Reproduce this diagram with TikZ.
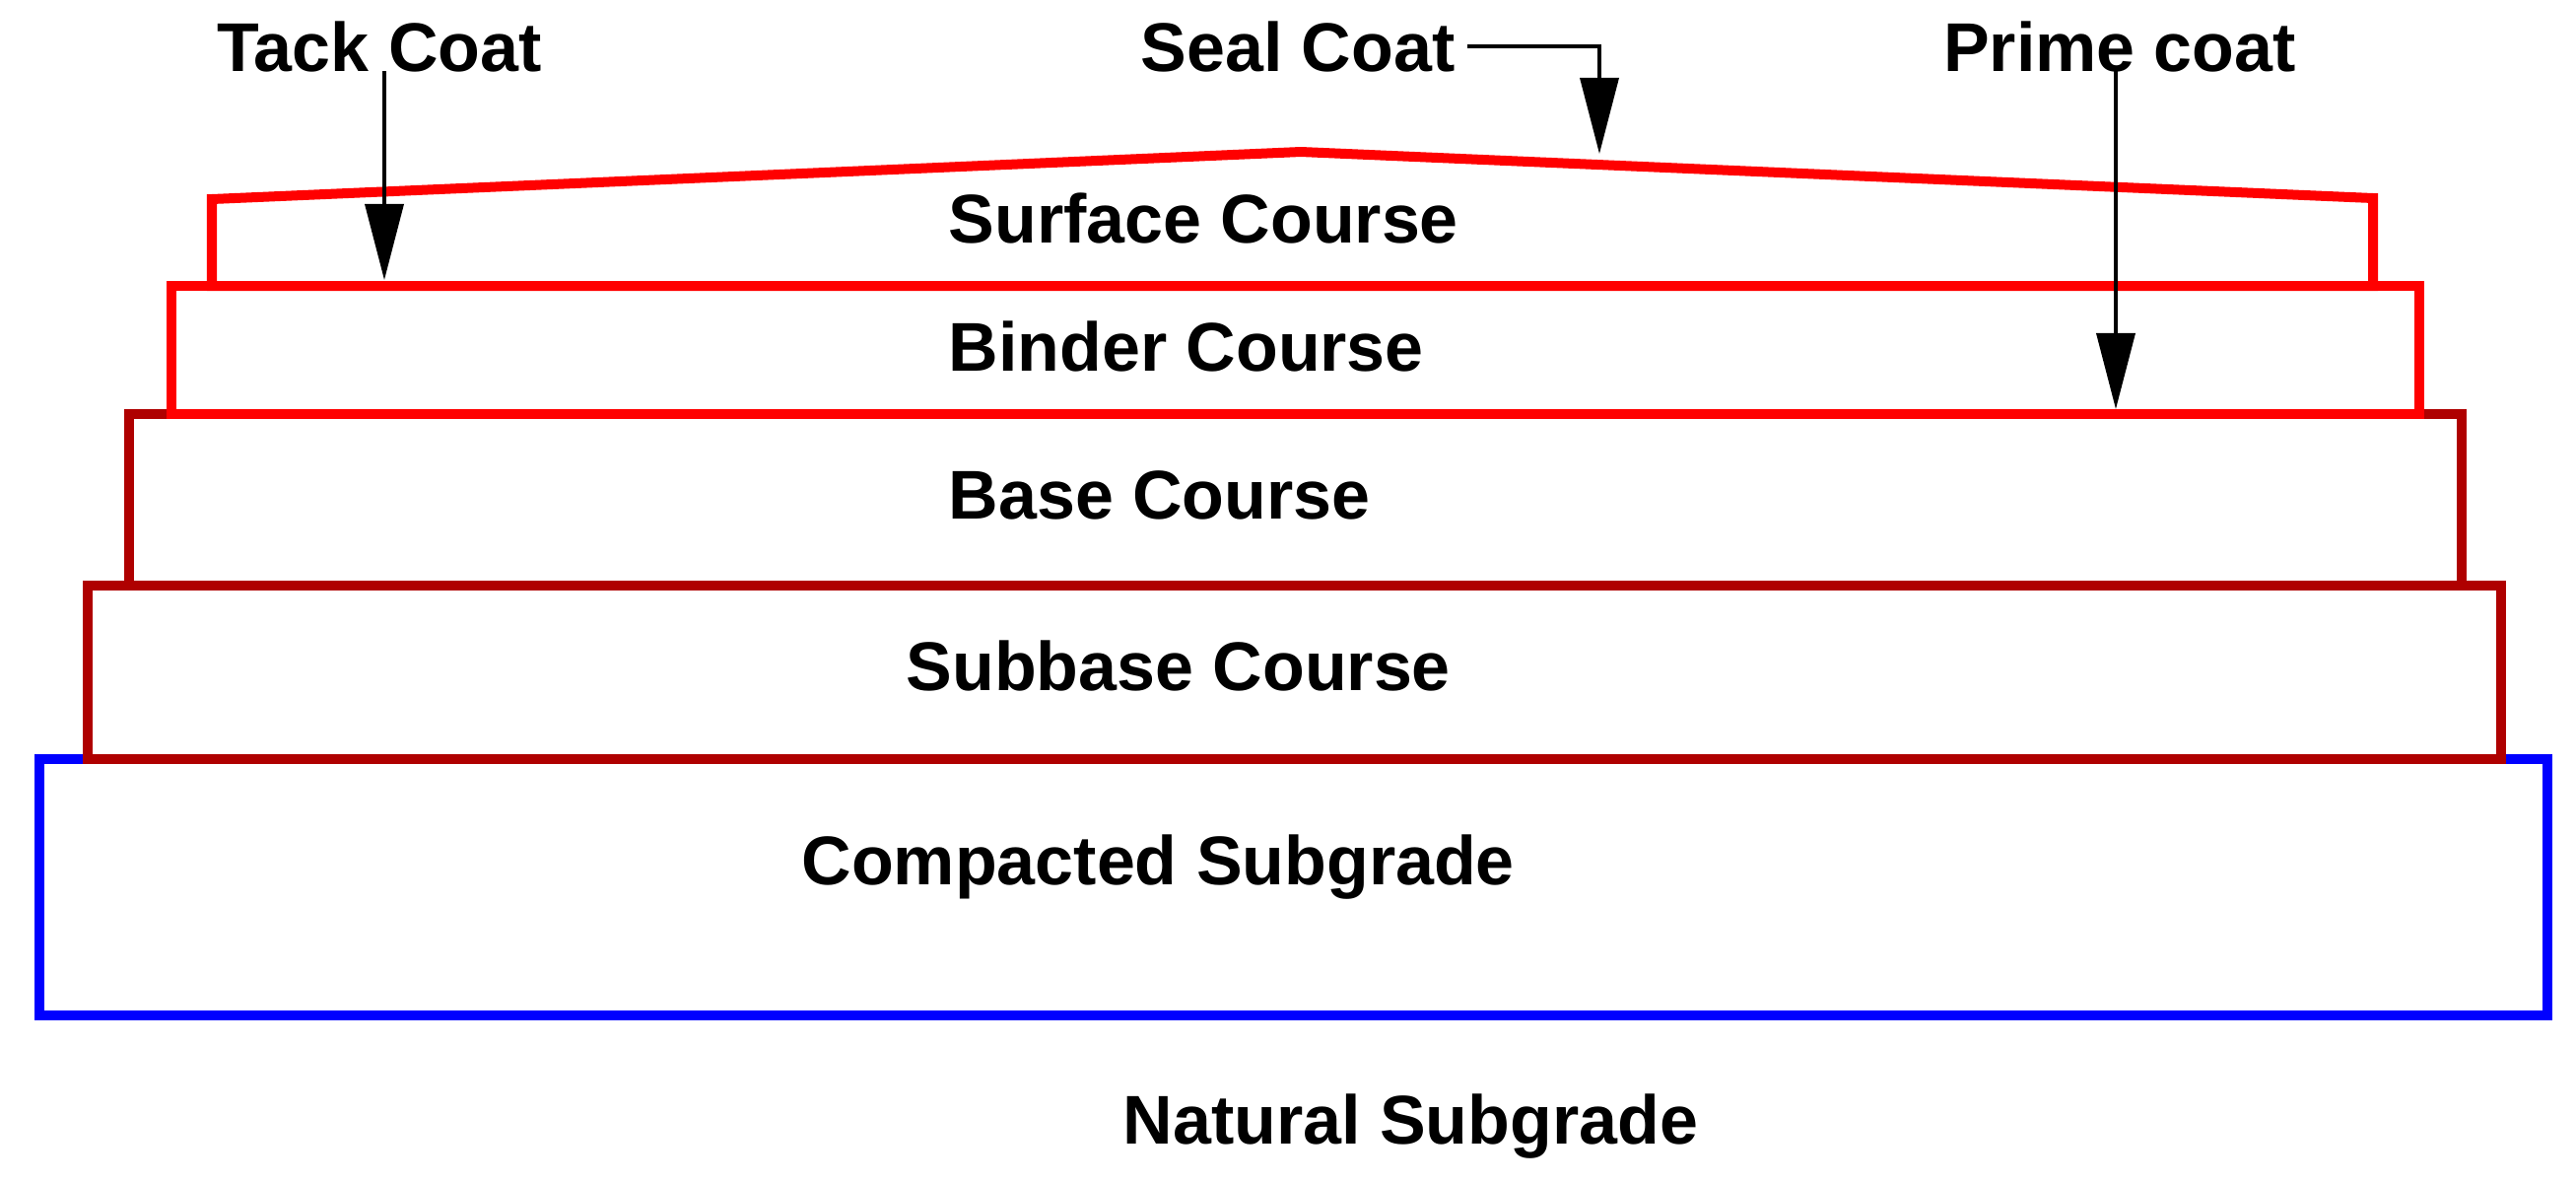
\documentclass[tikz,border=0pt]{standalone}
\usepackage{fontspec}
\setmainfont{Liberation Sans}
\usepackage{tikz}
\usetikzlibrary{arrows.meta}
\definecolor{layerred}{RGB}{255,0,0}
\definecolor{layerdark}{RGB}{175,0,0}
\definecolor{layerblue}{RGB}{0,0,255}

\begin{document}
\begin{tikzpicture}[x=0.01cm, y=-0.01cm,
    layer/.style={line width=0.1cm, line join=miter},
    lbl/.style={font=\fontsize{19.9}{24}\selectfont\bfseries, anchor=base},
    layerlbl/.style={lbl, anchor=base west, inner sep=0pt},
    coatarrow/.style={line width=0.035cm, -{Triangle[length=7.7mm, width=3.9mm]}}]
    \useasboundingbox (0,0) rectangle (2614,1199);
    % layers, bottom first so the upper ones cover the shared edges
    \draw[layer, layerblue] (40,770) rectangle (2585,1030);
    \draw[layer, layerdark] (89,594) rectangle (2538,770);
    \draw[layer, layerdark] (131,420) rectangle (2498,594);
    \draw[layer, layerred] (174,290) rectangle (2455,420);
    \draw[layer, layerred]
(215,290) --
(215,202) --
(1320,154) --
(2408,201) --
(2408,290) --
cycle;
    % layer names
    \node[layerlbl] (surface) at (962,246) {Surface Course};
    \node[layerlbl] (binder) at (962,376) {Binder Course};
    \node[layerlbl] (base) at (962,526) {Base Course};
    \node[layerlbl] (subbase) at (919,700) {Subbase Course};
    \node[layerlbl] (compacted) at (813,897) {Compacted Subgrade};
    \node[layerlbl] (natural) at (1139,1160) {Natural Subgrade};
    % coats
    \node[lbl] (tack) at (385,72) {Tack Coat};
    \node[lbl] (seal) at (1317,72) {Seal Coat};
    \node[lbl] (prime) at (2151,72) {Prime coat};
    \coordinate (tacktip) at (390,284);
    \coordinate (sealtip) at (1623,156);
    \coordinate (primetip) at (2147,415);
    \draw[coatarrow] (tack.base -| tacktip) -- (tacktip);
    \draw[coatarrow] (seal.east) -| (sealtip);
    \draw[coatarrow] (prime.base -| primetip) -- (primetip);
\end{tikzpicture}
\end{document}
